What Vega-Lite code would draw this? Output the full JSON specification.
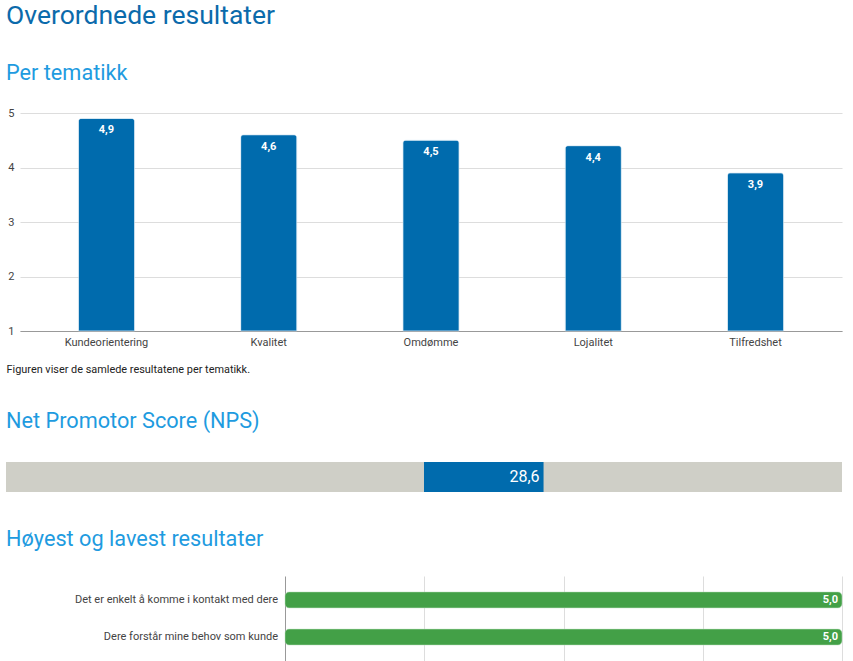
{
  "$schema": "https://vega.github.io/schema/vega-lite/v6.json",
  "padding": {"left": 5, "top": 2, "right": 0, "bottom": 0},
  "background": "white",
  "title": {"text": "Overordnede resultater", "anchor": "start", "frame": "bounds", "dx": 0, "fontSize": 26.5, "font": "Roboto", "fontWeight": "normal", "color": "#0b6aab", "baseline": "alphabetic", "offset": 13},
  "config": {
    "font": "Roboto",
    "view": {"stroke": null},
    "locale": {"number": {"decimal": ",", "thousands": " ", "grouping": [3], "currency": ["", " kr"]}},
    "title": {"font": "Roboto", "fontWeight": "normal", "fontSize": 21.7, "color": "#1e9be0", "anchor": "start", "frame": "group", "baseline": "alphabetic"}
  },
  "spacing": 37,
  "vconcat": [
    {
      "title": {"text": "Per tematikk", "dx": -14, "offset": 22},
      "width": 822,
      "height": 218,
      "data": {"values": [
        {"tema": "Kundeorientering", "score": 4.9},
        {"tema": "Kvalitet", "score": 4.6},
        {"tema": "Omdømme", "score": 4.5},
        {"tema": "Lojalitet", "score": 4.4},
        {"tema": "Tilfredshet", "score": 3.9}
      ]},
      "encoding": {
        "x": {"field": "tema", "type": "nominal", "sort": null,
          "scale": {"paddingInner": 0.654, "paddingOuter": 0.36},
          "axis": {"title": "Figuren viser de samlede resultatene per tematikk.", "titleFont": "Roboto", "titleFontSize": 10.9, "titleFontWeight": "normal", "titleColor": "#222", "titleAnchor": "start", "titleAlign": "left", "titleX": -14, "titleY": 32, "labelAngle": 0, "labelFontSize": 11, "labelColor": "#444", "labelPadding": 5, "ticks": false, "domainColor": "#999", "grid": false}},
        "y": {"field": "score", "type": "quantitative",
          "scale": {"domain": [1, 5], "nice": false, "zero": false, "clamp": true},
          "axis": {"title": null, "values": [1, 2, 3, 4, 5], "domain": false, "ticks": false, "labelPadding": 6, "labelFontSize": 11, "labelColor": "#444", "gridColor": "#dddddd", "labelAlign": "right"}}
      },
      "layer": [
        {"mark": {"type": "bar", "color": "#006bad", "cornerRadiusTopLeft": 3, "cornerRadiusTopRight": 3, "stroke": "#cfe3f0", "strokeWidth": 0.5}},
        {"mark": {"type": "text", "color": "white", "fontWeight": "bold", "fontSize": 11, "baseline": "middle", "dy": 12},
          "encoding": {"text": {"field": "score", "type": "quantitative", "format": ".1f"}}}
      ]
    },
    {
      "title": {"text": "Net Promotor Score (NPS)", "dx": -14, "offset": 29},
      "width": 822,
      "height": 30,
      "data": {"values": [
        {"rad": "NPS", "del": "bakgrunn", "fra": -100, "til": 100},
        {"rad": "NPS", "del": "NPS", "fra": 0, "til": 28.6}
      ]},
      "encoding": {
        "y": {"field": "rad", "type": "nominal", "scale": {"paddingInner": 0, "paddingOuter": 0}, "axis": null}
      },
      "layer": [
        {"mark": {"type": "bar"},
          "encoding": {
            "x": {"field": "fra", "type": "quantitative", "scale": {"domain": [-96.65, 100], "nice": false, "zero": false}, "axis": null},
            "x2": {"field": "til"},
            "color": {"field": "del", "type": "nominal", "scale": {"domain": ["bakgrunn", "NPS"], "range": ["#cfcfc7", "#006bad"]}, "legend": null}
          }},
        {"transform": [{"filter": "datum.del === 'NPS'"}],
          "mark": {"type": "text", "color": "white", "fontSize": 16, "align": "right", "baseline": "middle", "dx": -4},
          "encoding": {
            "x": {"field": "til", "type": "quantitative"},
            "text": {"field": "til", "type": "quantitative", "format": ".1f"}
          }}
      ]
    },
    {
      "title": {"text": "Høyest og lavest resultater", "dx": -14, "offset": 25},
      "width": 822,
      "height": 85,
      "data": {"values": [
        {"spm": "Det er enkelt å komme i kontakt med dere", "score": 5.0, "start": 1},
        {"spm": "Dere forstår mine behov som kunde", "score": 5.0, "start": 1}
      ]},
      "encoding": {
        "y": {"field": "spm", "type": "nominal", "sort": null, "scale": {"paddingInner": 0.57, "paddingOuter": 0.43}, "axis": null}
      },
      "layer": [
        {"mark": {"type": "bar", "color": "#43a047", "cornerRadiusEnd": 4, "stroke": "#bfe0c0", "strokeWidth": 0.5},
          "encoding": {
            "x": {"field": "start", "type": "quantitative",
              "scale": {"domain": [1, 5], "range": [265, 822], "nice": false, "zero": false},
              "axis": {"title": null, "values": [1, 2, 3, 4, 5], "labels": false, "ticks": false, "domain": false,
                "gridColor": {"condition": {"test": "datum.value === 1", "value": "#999999"}, "value": "#dddddd"}}},
            "x2": {"field": "score"}
          }},
        {"mark": {"type": "text", "color": "#444", "fontSize": 11, "align": "right", "baseline": "middle", "dx": -7},
          "encoding": {
            "x": {"field": "start", "type": "quantitative"},
            "text": {"field": "spm"}
          }},
        {"mark": {"type": "text", "color": "white", "fontWeight": "bold", "fontSize": 11, "align": "right", "baseline": "middle", "dx": -4},
          "encoding": {
            "x": {"field": "score", "type": "quantitative"},
            "text": {"field": "score", "type": "quantitative", "format": ".1f"}
          }}
      ]
    }
  ]
}
